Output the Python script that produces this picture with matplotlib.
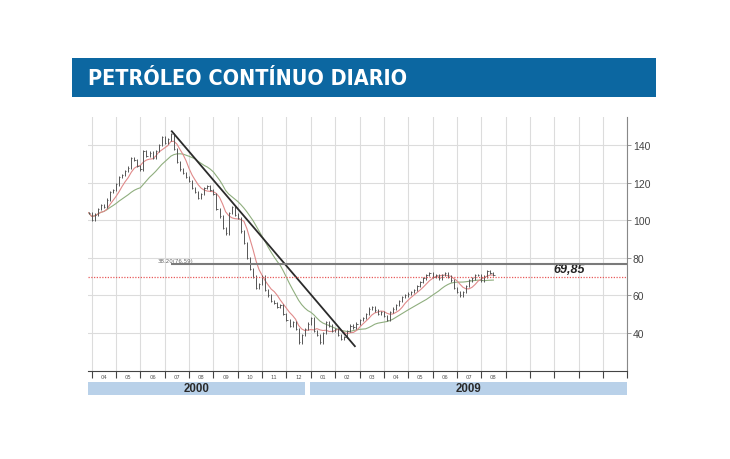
import numpy as np
import pandas as pd
import matplotlib
matplotlib.use('Agg')
import matplotlib.pyplot as plt
from matplotlib.patches import Rectangle
from matplotlib import font_manager

# Oil price (continuous contract), sampled ~8 points per month from late Mar 2008
price = [104,
         100, 103, 106, 108, 107, 111, 115, 116,
         119, 123, 124, 126, 128, 133, 132, 129,
         127, 137, 134, 136, 133, 137, 140, 144,
         141, 143, 146, 138, 131, 127, 125, 123,
         121, 117, 115, 112, 114, 117, 118, 116,
         114, 106, 102, 96, 93, 104, 107, 103,
         101, 94, 88, 80, 74, 70, 64, 66,
         70, 63, 60, 57, 56, 54, 55, 50,
         47, 44, 46, 42, 35, 39, 42, 45,
         48, 41, 39, 35, 40, 46, 44, 41,
         42, 39, 37, 38, 41, 44, 43, 45,
         47, 48, 50, 53, 54, 52, 50, 51,
         49, 47, 51, 53, 55, 57, 59, 60,
         61, 62, 63, 65, 67, 69, 71, 72,
         70, 71, 69, 71, 72, 70, 68, 64,
         62, 60, 62, 65, 68, 69, 71, 71,
         68, 70, 73, 72, 71]
pts_per_month = 8
start_month = -0.125   # months after 1 Apr 2008

month_labels = ['04', '05', '06', '07', '08', '09', '10', '11', '12',
                '01', '02', '03', '04', '05', '06', '07', '08']
n_months = 22          # axis runs to Feb 2010
yticks = [40, 60, 80, 100, 120, 140]

trend_x = [3.29, 10.81]
trend_y = [147.3, 33.0]
fib_level = 76.59
fib_label = '38.20(76.59)'
last_level = 69.85
last_label = '69,85'
years = ['2000', '2009']

# ---------------------------------------------------------------
s = pd.Series(price, dtype=float)
x = start_month + np.arange(len(s)) / pts_per_month
prev = s.shift(1).fillna(s.iloc[0])
lows = np.minimum(prev, s) - 0.6
highs = np.maximum(prev, s) + 0.6
ma_fast = s.rolling(6, min_periods=1).mean()
ma_slow = s.rolling(18, min_periods=1).mean()

names = {f.name for f in font_manager.fontManager.ttflist}
title_family = [f for f in ['Liberation Sans Narrow', 'DejaVu Sans']
                if f in names]

W, H = 730, 460
fig = plt.figure(figsize=(W / 100, H / 100), dpi=100, facecolor='white')

# title banner
fig.patches.append(Rectangle((72 / W, 1 - 98 / H), (656 - 72) / W, 39 / H,
                             transform=fig.transFigure, facecolor='#0c67a1',
                             edgecolor='none'))
fig.text(88 / W, 1 - 79 / H, 'PETRÓLEO CONTÍNUO DIARIO', color='white',
         fontsize=15.5, fontweight='bold', va='center', ha='left',
         fontstretch='condensed', family=title_family)

ax = fig.add_axes([88 / W, 1 - 372 / H, (627.3 - 88) / W, (372 - 118) / H])
ax.set_xlim(-0.152, n_months)
ax.set_ylim(19.8, 154.9)

# grid
for m in range(n_months + 1):
    ax.axvline(m, color='#dcdcdc', lw=0.8, zorder=0)
for v in yticks:
    ax.axhline(v, color='#dcdcdc', lw=0.8, zorder=0)

# moving averages
ax.plot(x, ma_slow, color='#8fae7e', lw=0.8, zorder=2)
ax.plot(x, ma_fast, color='#e08a8a', lw=0.8, zorder=2)

# price bars
ax.vlines(x, lows, highs, color='#555555', lw=0.7, zorder=3)
ax.hlines(s, x, x + 0.05, color='#555555', lw=0.6, zorder=3)

# trend line
ax.plot(trend_x, trend_y, color='#2b2b2b', lw=1.3, zorder=4)

# fibonacci retracement and last price
ax.hlines(fib_level, 3.25, n_months, color='#7a7a7a', lw=1.5, zorder=4)
ax.text(2.7, fib_level + 0.6, fib_label, fontsize=4, color='#666666',
        va='bottom', ha='left')
ax.axhline(last_level, color='#e85a5a', lw=0.9, ls=(0, (1, 1.2)), zorder=4)
ax.text(19.6, last_level + 1.2, last_label, fontsize=9, fontweight='bold',
        fontstyle='italic', color='#222222', ha='center', va='bottom',
        family=['Liberation Sans', 'DejaVu Sans'])

# axes styling
for side in ['top', 'left']:
    ax.spines[side].set_visible(False)
ax.spines['right'].set_color('#888888')
ax.spines['right'].set_linestyle((0, (1, 1)))
ax.spines['right'].set_linewidth(0.8)
ax.spines['bottom'].set_color('#444444')
ax.spines['bottom'].set_linewidth(0.8)

ax.yaxis.tick_right()
ax.set_yticks(yticks)
ax.set_yticklabels([str(v) for v in yticks], fontsize=7.5, color='#444444',
                   family=['Liberation Sans', 'DejaVu Sans'])
ax.tick_params(axis='y', length=3, width=0.6, color='#888888', pad=1)

centers = np.arange(len(month_labels)) + 0.5
ax.set_xticks(centers)
ax.set_xticklabels(month_labels, fontsize=3.8, color='#555555')
ax.set_xticks(np.arange(n_months + 1), minor=True)
ax.tick_params(axis='x', which='major', length=0, pad=2)
ax.tick_params(axis='x', which='minor', length=5, width=0.8, color='#444444',
               direction='out')

# year bars
for (x0, x1), label in zip([(88, 305), (310, 627.3)], years):
    fig.patches.append(Rectangle((x0 / W, 1 - 396 / H), (x1 - x0) / W, 13.5 / H,
                                 transform=fig.transFigure,
                                 facecolor='#b9d1e9', edgecolor='none'))
    fig.text((x0 + x1) / 2 / W, 1 - 389.5 / H, label, fontsize=8.3,
             fontweight='bold', color='#2a2a2a', ha='center', va='center',
             family=['Liberation Sans', 'DejaVu Sans'])

fig.savefig('out.png', dpi=100, facecolor='white')
